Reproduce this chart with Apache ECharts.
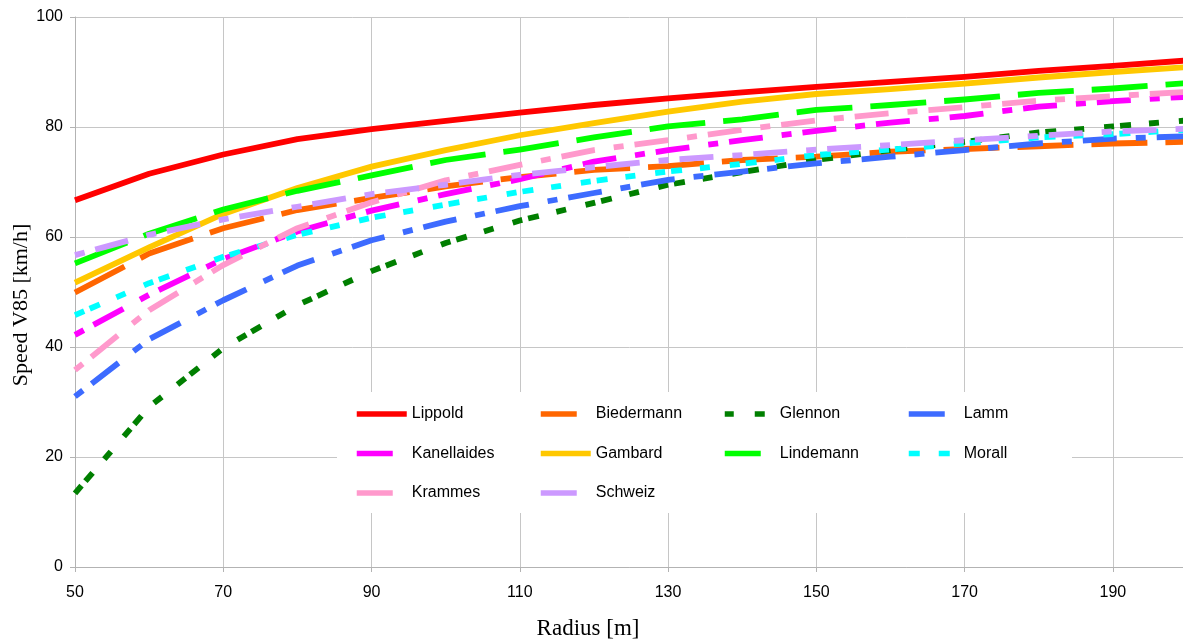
<!DOCTYPE html>
<html>
<head>
<meta charset="utf-8">
<script src="https://cdn.jsdelivr.net/npm/echarts@6/dist/echarts.min.js"></script>
<style>
html,body{margin:0;padding:0;background:#fff;}
#chart{width:1183px;height:640px;}
</style>
</head>
<body>
<div id="chart"></div>
<script>
// ---- data ----
const radius = [50, 60, 70, 80, 90, 100, 110, 120, 130, 140, 150, 160, 170, 180, 190, 200];
const xTicks = [50, 70, 90, 110, 130, 150, 170, 190];
const yTicks = [0, 20, 40, 60, 80, 100];

const lippold     = [66.7, 71.5, 75.0, 77.8, 79.6, 81.1, 82.6, 84.0, 85.2, 86.3, 87.3, 88.2, 89.1, 90.2, 91.1, 92.1];
const biedermann  = [49.9, 57.0, 61.6, 64.9, 67.1, 69.2, 70.9, 72.2, 72.9, 74.0, 74.6, 75.5, 76.0, 76.5, 77.0, 77.3];
const glennon     = [13.4, 29.1, 39.8, 47.6, 53.8, 58.9, 63.0, 66.2, 69.5, 71.8, 74.0, 75.8, 77.3, 79.0, 80.1, 81.2];
const lamm        = [31.0, 41.4, 48.5, 54.8, 59.4, 62.8, 65.6, 68.0, 70.4, 71.9, 73.4, 74.6, 75.8, 77.0, 77.9, 78.3];
const kanellaides = [42.2, 49.5, 56.0, 61.0, 64.8, 67.8, 70.5, 73.7, 75.8, 77.6, 79.3, 80.8, 82.0, 83.7, 84.7, 85.5];
const gambard     = [51.7, 58.1, 64.2, 68.9, 72.8, 75.8, 78.5, 80.7, 82.8, 84.6, 86.0, 86.9, 87.9, 89.0, 90.0, 90.9];
const lindemann   = [55.2, 60.6, 65.0, 68.4, 71.2, 74.0, 75.9, 78.1, 80.1, 81.4, 83.1, 84.0, 85.0, 86.2, 87.0, 88.0];
const morall      = [45.8, 51.6, 56.4, 60.4, 63.5, 65.9, 68.2, 70.2, 71.9, 73.3, 74.9, 75.9, 77.0, 78.1, 78.7, 79.5];
const krammes     = [35.8, 46.7, 54.9, 61.6, 66.3, 70.3, 73.1, 75.8, 77.6, 79.5, 81.2, 82.5, 83.6, 84.8, 85.6, 86.4];
const schweiz     = [56.7, 60.4, 63.2, 65.5, 67.8, 69.5, 71.3, 72.7, 74.0, 74.9, 75.9, 76.7, 77.6, 78.4, 79.2, 79.7];

const seriesNames = ['Lippold', 'Biedermann', 'Glennon', 'Lamm', 'Kanellaides', 'Gambard', 'Lindemann', 'Morall', 'Krammes', 'Schweiz'];
const seriesValues = [lippold, biedermann, glennon, lamm, kanellaides, gambard, lindemann, morall, krammes, schweiz];

// ---- styles ----
const colors = {
  Lippold: '#ff0000', Biedermann: '#ff6600', Glennon: '#007f00', Lamm: '#3d6bff',
  Kanellaides: '#ff00ff', Gambard: '#ffc800', Lindemann: '#00ff00', Morall: '#00ffff',
  Krammes: '#ff99cc', Schweiz: '#cc99ff'
};
const longDash = [56, 18];
const dashDot = [10, 11, 34, 19];
const dotty = [10, 6, 11, 18, 10, 20];
const dashes = {
  Lippold: 'solid', Biedermann: longDash, Glennon: dotty, Lamm: dashDot,
  Kanellaides: dashDot, Gambard: 'solid', Lindemann: longDash, Morall: dotty,
  Krammes: dashDot, Schweiz: dashDot
};
const legendIcon = {
  Lippold: 'solid', Biedermann: [36, 100], Glennon: [9, 21, 10, 100], Lamm: [36, 100],
  Kanellaides: [36, 100], Gambard: 'solid', Lindemann: [36, 100], Morall: [11, 19, 11, 100],
  Krammes: [36, 100], Schweiz: [36, 100]
};

const series = seriesNames.map((name, i) => ({
  name: name,
  type: 'line',
  data: radius.map((r, j) => [r, seriesValues[i][j]]),
  symbol: 'none',
  showSymbol: false,
  smooth: false,
  clip: true,
  color: colors[name],
  lineStyle: { width: 5.8, color: colors[name], type: dashes[name], cap: 'butt', join: 'round' },
  emphasis: { disabled: true },
  animation: false
}));

const legendColumns = [
  { left: 354, names: ['Lippold', 'Kanellaides', 'Krammes'] },
  { left: 538, names: ['Biedermann', 'Gambard', 'Schweiz'] },
  { left: 722, names: ['Glennon', 'Lindemann'] },
  { left: 906, names: ['Lamm', 'Morall'] }
];
const legends = legendColumns.map(col => ({
  orient: 'vertical',
  left: col.left,
  top: 406,
  padding: 0,
  itemWidth: 50,
  itemHeight: 16,
  itemGap: 23.5,
  selectedMode: false,
  itemStyle: { opacity: 0, borderWidth: 0 },
  textStyle: { fontFamily: 'Liberation Sans', fontSize: 16, color: '#000' },
  data: col.names.map(n => ({
    name: n,
    itemStyle: { opacity: 0, borderWidth: 0 },
    lineStyle: { type: legendIcon[n], width: 5.5, cap: 'butt' }
  }))
}));

const labelFont = { fontFamily: 'Liberation Sans', fontSize: 16, color: '#000' };
const gridColor = '#c6c6c6';

const option = {
  backgroundColor: '#fff',
  animation: false,
  grid: { left: 75, right: -4, top: 17, bottom: 73, containLabel: false, outerBoundsMode: 'none' },
  graphic: [{
    type: 'rect',
    z: 1,
    shape: { x: 337, y: 392, width: 735, height: 121 },
    style: { fill: '#ffffff' }
  }],
  legend: legends,
  xAxis: {
    type: 'value',
    min: 50,
    max: 200,
    interval: 20,
    name: 'Radius [m]',
    nameLocation: 'middle',
    nameGap: 50,
    nameMoveOverlap: false,
    nameTextStyle: { fontFamily: 'Liberation Serif', fontSize: 23, color: '#000', padding: [0, 86, 0, 0] },
    axisLine: { show: true, onZero: false, lineStyle: { color: '#b3b3b3', width: 1 } },
    axisTick: { show: true, length: 5, lineStyle: { color: '#b3b3b3' } },
    axisLabel: Object.assign({ margin: 18, showMaxLabel: false,
      formatter: v => (xTicks.indexOf(v) >= 0 ? String(v) : '') }, labelFont),
    splitLine: { show: true, lineStyle: { color: gridColor, width: 1 } }
  },
  yAxis: {
    type: 'value',
    min: 0,
    max: 100,
    interval: 20,
    name: 'Speed V85 [km/h]',
    nameLocation: 'middle',
    nameGap: 43,
    nameMoveOverlap: false,
    nameTextStyle: { fontFamily: 'Liberation Serif', fontSize: 22, color: '#000', padding: [0, 26, 0, 0] },
    axisLine: { show: true, lineStyle: { color: '#b3b3b3', width: 1 } },
    axisTick: { show: true, length: 5, lineStyle: { color: '#b3b3b3' } },
    axisLabel: Object.assign({ margin: 12,
      formatter: v => (yTicks.indexOf(v) >= 0 ? String(v) : '') }, labelFont),
    splitLine: { show: true, lineStyle: { color: gridColor, width: 1 } }
  },
  series: series
};

const chart = echarts.init(document.getElementById('chart'), null, { renderer: 'canvas' });
chart.setOption(option);
</script>
</body>
</html>
